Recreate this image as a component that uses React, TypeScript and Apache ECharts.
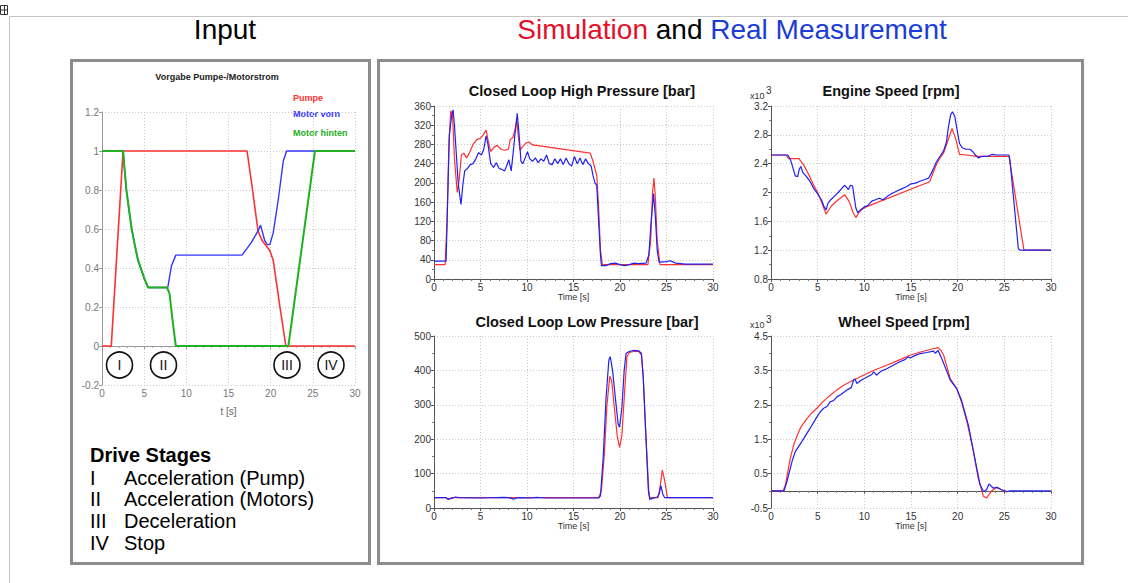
import React, { useEffect, useRef } from "react";
import * as echarts from "echarts";

const W = 1128;
const H = 583;
const FONT = "'Liberation Sans', Arial, sans-serif";

// ---------- Input chart (Vorgabe Pumpe-/Motorstrom) ----------
const inputTitle = "Vorgabe Pumpe-/Motorstrom";
const inputYTicks = { min: -0.2, max: 1.2, interval: 0.2 };
const pumpe: [number, number][] = [
  [0, 0], [1.1, 0], [2.5, 1], [17.2, 1], [17.85, 0.8], [18.5, 0.59], [19.0, 0.54],
  [19.9, 0.49], [20.3, 0.44], [21.1, 0.2], [21.8, 0], [30, 0],
];
const motorVorn: [number, number][] = [
  [0, 1], [2.5, 1], [2.69, 0.9], [2.89, 0.8], [3.2, 0.7], [3.48, 0.61], [3.88, 0.52],
  [4.27, 0.44], [4.67, 0.39], [5.07, 0.34], [5.46, 0.3], [7.8, 0.3], [8.23, 0.41],
  [8.75, 0.466], [16.6, 0.466], [17.7, 0.53], [18.5, 0.59], [18.8, 0.62], [19.3, 0.54],
  [19.6, 0.52], [19.9, 0.52], [20.3, 0.58], [20.9, 0.75], [21.5, 0.95], [21.9, 1], [30, 1],
];
const motorHinten: [number, number][] = [
  [0, 1], [2.5, 1], [2.69, 0.9], [2.89, 0.8], [3.2, 0.7], [3.48, 0.61], [3.88, 0.52],
  [4.27, 0.44], [4.67, 0.39], [5.07, 0.34], [5.46, 0.3], [7.7, 0.3], [8.0, 0.27],
  [8.4, 0.12], [8.75, 0], [22.1, 0], [25.25, 1], [30, 1],
];
const inputLegend = ["Pumpe", "Motor vorn", "Motor hinten"];
const stageMarks = ["I", "II", "III", "IV"];

// ---------- Drive stages ----------
const stagesHeading = "Drive Stages";
const stageNumerals = ["I", "II", "III", "IV"];
const stageNames = ["Acceleration (Pump)", "Acceleration (Motors)", "Deceleration", "Stop"];

// ---------- Closed Loop High Pressure [bar] ----------
const hpSim: [number, number][] = [
  [0, 30], [1.2, 30], [1.4, 120], [1.6, 280], [1.8, 350], [2.0, 340], [2.2, 250], [2.5, 180],
  [2.7, 205], [2.95, 258], [3.2, 262], [3.5, 252], [3.8, 262], [4.2, 280], [4.6, 290],
  [5.0, 293], [5.3, 300], [5.6, 310], [5.8, 290], [6.1, 265], [6.5, 275], [6.8, 278],
  [7.2, 270], [7.6, 268], [8.0, 270], [8.2, 290], [8.5, 295], [8.75, 315], [8.9, 330],
  [9.05, 300], [9.25, 268], [9.5, 275], [9.9, 283], [10.2, 285], [10.6, 279], [11, 278],
  [16.8, 262], [17.1, 245], [17.5, 215], [17.7, 150], [17.9, 60], [18.1, 30], [23.0, 30],
  [23.3, 80], [23.5, 180], [23.65, 210], [23.8, 170], [24.0, 80], [24.3, 30], [30, 30],
];
const hpMeas: [number, number][] = [
  [0, 37], [1.3, 37], [1.45, 150], [1.65, 300], [1.9, 340], [2.05, 352], [2.2, 320],
  [2.4, 260], [2.6, 200], [2.9, 155], [3.1, 195], [3.3, 225], [3.6, 230], [3.9, 238],
  [4.2, 240], [4.5, 250], [4.8, 263], [5.1, 258], [5.35, 270], [5.6, 298], [5.8, 280],
  [6.1, 240], [6.4, 232], [6.7, 242], [7.0, 230], [7.3, 228], [7.6, 225], [7.9, 240],
  [8.05, 248], [8.3, 225], [8.5, 260], [8.7, 300], [8.95, 345], [9.15, 300], [9.35, 245],
  [9.55, 240], [9.8, 252], [10.05, 265], [10.3, 250], [10.6, 245], [10.9, 252], [11.2, 242],
  [11.5, 250], [11.8, 245], [12.1, 258], [12.4, 240], [12.7, 238], [13.0, 250], [13.3, 240],
  [13.6, 250], [13.9, 238], [14.2, 252], [14.5, 240], [14.8, 235], [15.1, 255], [15.4, 240],
  [15.7, 252], [16.0, 238], [16.3, 250], [16.6, 240], [16.9, 235], [17.1, 215], [17.3, 200],
  [17.5, 195], [17.7, 120], [17.9, 50], [18.0, 28], [18.5, 28], [19.0, 32], [19.5, 33],
  [20.0, 30], [20.5, 28], [21.0, 30], [21.5, 33], [22.0, 32], [22.8, 33], [23.1, 50],
  [23.35, 120], [23.6, 178], [23.8, 130], [24.0, 60], [24.2, 35], [25.0, 36], [25.4, 38],
  [26.0, 33], [27, 31], [30, 31],
];

// ---------- Engine Speed [rpm] (x10^3) ----------
const esSim: [number, number][] = [
  [0, 2.52], [1.6, 2.52], [1.9, 2.47], [3.0, 2.47], [3.5, 2.38], [4.0, 2.26], [4.5, 2.12],
  [5.0, 2.0], [5.5, 1.84], [5.9, 1.7], [6.1, 1.74], [6.5, 1.82], [7.2, 1.9], [7.9, 1.97],
  [8.4, 1.87], [8.8, 1.72], [9.1, 1.65], [9.4, 1.72], [9.8, 1.77], [10.2, 1.8], [17.0, 2.15],
  [17.6, 2.35], [18.0, 2.46], [18.5, 2.55], [18.9, 2.7], [19.4, 2.89], [19.8, 2.74],
  [20.2, 2.53], [21.0, 2.52], [22.0, 2.5], [25.5, 2.5], [27.1, 1.2], [30, 1.2],
];
const esMeas: [number, number][] = [
  [0, 2.52], [1.8, 2.52], [2.1, 2.45], [2.4, 2.32], [2.6, 2.23], [2.85, 2.22], [3.05, 2.33],
  [3.2, 2.36], [3.4, 2.28], [3.8, 2.22], [4.2, 2.15], [4.6, 2.05], [5.0, 1.98], [5.4, 1.9],
  [5.7, 1.8], [5.9, 1.76], [6.1, 1.85], [6.4, 1.9], [6.8, 1.95], [7.2, 2.0], [7.6, 2.06],
  [7.9, 2.1], [8.1, 2.07], [8.3, 2.04], [8.5, 2.1], [8.75, 2.09], [8.9, 1.95], [9.1, 1.78],
  [9.3, 1.72], [9.6, 1.76], [10.0, 1.8], [10.4, 1.82], [10.8, 1.88], [11.2, 1.9], [11.6, 1.92],
  [12.0, 1.9], [12.5, 1.95], [13.0, 1.99], [13.5, 2.02], [14.0, 2.05], [14.5, 2.08],
  [15.0, 2.12], [15.5, 2.13], [16.0, 2.16], [16.5, 2.18], [16.9, 2.2], [17.3, 2.3],
  [17.7, 2.42], [18.1, 2.5], [18.5, 2.58], [18.8, 2.7], [19.0, 2.9], [19.25, 3.08],
  [19.45, 3.12], [19.7, 3.05], [19.9, 2.9], [20.2, 2.68], [20.5, 2.62], [20.9, 2.6],
  [21.3, 2.6], [21.6, 2.57], [21.9, 2.52], [22.2, 2.48], [22.6, 2.5], [23.2, 2.5],
  [23.7, 2.53], [24.2, 2.52], [25.5, 2.52], [25.6, 2.45], [26.5, 1.22], [26.7, 1.2], [30, 1.2],
];

// ---------- Closed Loop Low Pressure [bar] ----------
const lpSim: [number, number][] = [
  [0, 30], [1.3, 30], [1.5, 27], [2.0, 30], [17.7, 30], [18.0, 50], [18.3, 150], [18.6, 300],
  [18.9, 383], [19.1, 370], [19.4, 290], [19.7, 210], [19.95, 176], [20.2, 210], [20.5, 340],
  [20.75, 440], [21.0, 452], [21.5, 455], [22.0, 455], [22.3, 445], [22.5, 380], [22.8, 200],
  [23.1, 50], [23.2, 30], [24.1, 30], [24.3, 60], [24.55, 110], [24.8, 80], [25.1, 30], [30, 30],
];
const lpMeas: [number, number][] = [
  [0, 30], [1.3, 30], [1.5, 25], [1.9, 28], [2.3, 32], [2.7, 30], [5, 29], [7.5, 31], [8.0, 30],
  [8.6, 26], [9.0, 30], [10.5, 29], [11, 31], [12, 29], [17.7, 29], [17.9, 35], [18.2, 150],
  [18.5, 320], [18.8, 430], [18.95, 440], [19.2, 400], [19.5, 320], [19.8, 245], [19.95, 235],
  [20.2, 290], [20.45, 400], [20.65, 450], [21.0, 455], [21.5, 458], [22.0, 457], [22.3, 450],
  [22.5, 380], [22.8, 200], [23.05, 50], [23.2, 25], [23.5, 28], [24.0, 32], [24.2, 40],
  [24.4, 65], [24.6, 40], [24.8, 30], [30, 30],
];

// ---------- Wheel Speed [rpm] (x10^3) ----------
const wsSim: [number, number][] = [
  [0, 0], [1.3, 0], [1.55, 0.18], [1.8, 0.55], [2.07, 0.95], [2.43, 1.33], [2.8, 1.6],
  [3.14, 1.82], [3.5, 1.97], [3.85, 2.1], [4.4, 2.27], [4.92, 2.4], [5.6, 2.6], [6.35, 2.78],
  [7.0, 2.92], [7.78, 3.07], [8.85, 3.22], [9.9, 3.36], [11.1, 3.51], [12.4, 3.65],
  [13.7, 3.8], [14.9, 3.94], [16.2, 4.05], [17.4, 4.13], [17.9, 4.16], [18.2, 4.08],
  [18.5, 3.94], [18.85, 3.6], [19.2, 3.26], [19.9, 2.97], [20.4, 2.59], [21.0, 2.0],
  [21.7, 1.14], [22.2, 0.37], [22.76, -0.16], [23.1, -0.21], [23.65, 0.0], [24.2, 0.1],
  [24.7, 0.03], [25.3, -0.04],
];
const wsMeas: [number, number][] = [
  [0, 0], [1.4, 0], [1.71, 0.27], [2.25, 0.85], [2.6, 1.14], [3.3, 1.43], [4.2, 1.82],
  [4.92, 2.15], [5.3, 2.3], [5.64, 2.4], [6.0, 2.45], [6.35, 2.59], [6.7, 2.62], [7.06, 2.73],
  [7.5, 2.8], [8.13, 2.93], [8.6, 3.0], [8.85, 3.22], [9.0, 3.25], [9.2, 3.12], [9.7, 3.22],
  [10.3, 3.31], [10.8, 3.38], [11.0, 3.46], [11.3, 3.36], [11.8, 3.48], [12.4, 3.55],
  [13.1, 3.65], [13.8, 3.75], [14.4, 3.82], [14.7, 3.9], [14.9, 3.86], [15.4, 3.93],
  [16.0, 3.99], [16.7, 4.02], [17.4, 4.06], [17.6, 4.0], [17.9, 4.08], [18.3, 3.84],
  [18.8, 3.5], [19.2, 3.22], [19.9, 2.97], [20.4, 2.64], [21.15, 1.91], [21.9, 0.85],
  [22.4, 0.18], [22.76, -0.02], [23.1, 0.03], [23.35, 0.2], [23.8, 0.08], [24.2, 0.1],
  [24.7, 0.03], [25.3, -0.02], [25.6, 0], [30, 0],
];

const chartTitles = [
  "Closed Loop High Pressure [bar]",
  "Engine Speed [rpm]",
  "Closed Loop Low Pressure [bar]",
  "Wheel Speed [rpm]",
];
const xName = "Time [s]";

const RED = "#ff3030";
const BLUE = "#2020f0";
const GREEN = "#22b022";

function buildOption() {
  const grids = [
    { left: 102, top: 112, width: 253, height: 273 },
    { left: 434, top: 106, width: 279, height: 173 },
    { left: 771, top: 106, width: 280, height: 173 },
    { left: 434, top: 336, width: 279, height: 172 },
    { left: 771, top: 336, width: 280, height: 172 },
  ];
  const yRanges = [
    inputYTicks,
    { min: 0, max: 360, interval: 40 },
    { min: 0.8, max: 3.2, interval: 0.4 },
    { min: 0, max: 500, interval: 100 },
    { min: -0.5, max: 4.5, interval: 1 },
  ];
  const split = { show: true, lineStyle: { color: "#c8c8c8", type: [1, 2] as any, width: 1 } };
  const xAxis = grids.map((_, i) => ({
    type: "value",
    gridIndex: i,
    min: 0,
    max: 30,
    interval: 5,
    name: i === 0 ? "t [s]" : xName,
    nameLocation: "middle",
    nameGap: i === 0 ? 21 : 13,
    nameTextStyle: { fontSize: i === 0 ? 10 : 9, color: i === 0 ? "#666" : "#333", fontFamily: FONT },
    axisLine: { lineStyle: { color: i === 0 ? "#999" : "#555", width: 1 } },
    axisTick: { show: true, length: 3, lineStyle: { color: i === 0 ? "#999" : "#555" } },
    minorTick: { show: true, splitNumber: 5, length: 2, lineStyle: { color: i === 0 ? "#aaa" : "#777" } },
    axisLabel: { fontSize: 10, color: i === 0 ? "#777" : "#333", margin: 3, fontFamily: FONT },
    splitLine: split,
  }));
  const yAxis = grids.map((_, i) => ({
    type: "value",
    gridIndex: i,
    min: yRanges[i].min,
    max: yRanges[i].max,
    interval: yRanges[i].interval,
    axisLine: { show: true, lineStyle: { color: i === 0 ? "#999" : "#555", width: 1 } },
    axisTick: { show: true, length: 3, lineStyle: { color: i === 0 ? "#999" : "#555" } },
    minorTick: { show: i !== 0, splitNumber: 2, length: 2, lineStyle: { color: "#777" } },
    axisLabel: { fontSize: 10, color: i === 0 ? "#777" : "#333", margin: 3, fontFamily: FONT },
    splitLine: split,
  }));
  const line = (name: string, data: [number, number][], idx: number, color: string, w: number) => ({
    type: "line",
    name,
    xAxisIndex: idx,
    yAxisIndex: idx,
    data,
    showSymbol: false,
    symbol: "none",
    lineStyle: { color, width: w },
    itemStyle: { color },
  });
  const series = [
    line("Pumpe", pumpe, 0, RED, 1.6),
    line("Motor vorn", motorVorn, 0, "#3333ff", 1.4),
    line("Motor hinten", motorHinten, 0, GREEN, 2),
    line("Simulation HP", hpSim, 1, RED, 1.2),
    line("Measurement HP", hpMeas, 1, BLUE, 1.2),
    line("Simulation ES", esSim, 2, RED, 1.2),
    line("Measurement ES", esMeas, 2, BLUE, 1.2),
    line("Simulation LP", lpSim, 3, RED, 1.2),
    line("Measurement LP", lpMeas, 3, BLUE, 1.2),
    line("Simulation WS", wsSim, 4, RED, 1.2),
    line("Measurement WS", wsMeas, 4, BLUE, 1.2),
  ];

  const graphic: any[] = [];
  // page frame lines + icon
  graphic.push({ type: "line", shape: { x1: 10, y1: 16.5, x2: W, y2: 16.5 }, style: { stroke: "#c4c4c4", lineWidth: 1 } });
  graphic.push({ type: "line", shape: { x1: 9.5, y1: 16, x2: 9.5, y2: H }, style: { stroke: "#c4c4c4", lineWidth: 1 } });
  graphic.push({ type: "rect", shape: { x: 0.5, y: 5.5, width: 7, height: 9 }, style: { fill: "#fff", stroke: "#333", lineWidth: 1 } });
  graphic.push({ type: "line", shape: { x1: 1, y1: 10, x2: 8, y2: 10 }, style: { stroke: "#333", lineWidth: 1 } });
  graphic.push({ type: "line", shape: { x1: 4.5, y1: 6, x2: 4.5, y2: 14 }, style: { stroke: "#333", lineWidth: 1 } });

  // panels
  graphic.push({ type: "rect", shape: { x: 71.5, y: 60.5, width: 298, height: 503 }, style: { fill: "none", stroke: "#8c8c8c", lineWidth: 3 } });
  graphic.push({ type: "rect", shape: { x: 378.5, y: 60.5, width: 704, height: 503 }, style: { fill: "none", stroke: "#8c8c8c", lineWidth: 3 } });

  // headings
  graphic.push({
    type: "text", x: 225, y: 29,
    style: { text: "Input", fontSize: 28, fontFamily: FONT, fill: "#000", align: "center", verticalAlign: "middle" },
  });
  graphic.push({
    type: "text", x: 732, y: 29,
    style: {
      text: "{r|Simulation} {k|and} {b|Real Measurement}",
      fontSize: 28, fontFamily: FONT, align: "center", verticalAlign: "middle",
      rich: {
        r: { fill: "#e4102a", fontSize: 28, fontFamily: FONT },
        k: { fill: "#000", fontSize: 28, fontFamily: FONT },
        b: { fill: "#1c3cd6", fontSize: 28, fontFamily: FONT },
      },
    },
  });

  // input chart title + legend
  graphic.push({
    type: "text", x: 217, y: 77,
    style: { text: inputTitle, fontSize: 9, fontWeight: "bold", fontFamily: FONT, fill: "#222", align: "center", verticalAlign: "middle" },
  });
  const legendColors = [RED, "#3333ff", GREEN];
  const legendY = [98, 114, 133];
  inputLegend.forEach((t, i) => {
    graphic.push({
      type: "text", x: 293, y: legendY[i],
      style: { text: t, fontSize: 9, fontWeight: "bold", fontFamily: FONT, fill: legendColors[i], align: "left", verticalAlign: "middle" },
    });
  });
  // stage circles
  const circleX = [119.5, 163.5, 287, 331];
  stageMarks.forEach((m, i) => {
    graphic.push({ type: "circle", shape: { cx: circleX[i], cy: 365, r: 13 }, style: { fill: "#fff", stroke: "#111", lineWidth: 1.6 }, z: 100 });
    graphic.push({
      type: "text", x: circleX[i], y: 365, z: 101,
      style: { text: m, fontSize: 14, fontFamily: FONT, fill: "#111", align: "center", verticalAlign: "middle" },
    });
  });

  // drive stages text
  graphic.push({
    type: "text", x: 90, y: 455,
    style: { text: stagesHeading, fontSize: 20, fontWeight: "bold", fontFamily: FONT, fill: "#000", align: "left", verticalAlign: "middle" },
  });
  const rowY = [478, 499, 521, 543];
  stageNumerals.forEach((n, i) => {
    graphic.push({
      type: "text", x: 90, y: rowY[i],
      style: { text: n, fontSize: 20, fontFamily: FONT, fill: "#000", align: "left", verticalAlign: "middle" },
    });
    graphic.push({
      type: "text", x: 124, y: rowY[i],
      style: { text: stageNames[i], fontSize: 20, fontFamily: FONT, fill: "#000", align: "left", verticalAlign: "middle" },
    });
  });

  // chart titles
  const titlePos = [
    [582, 91], [891, 91], [587, 322], [904, 322],
  ];
  chartTitles.forEach((t, i) => {
    graphic.push({
      type: "text", x: titlePos[i][0], y: titlePos[i][1],
      style: { text: t, fontSize: 14.5, fontWeight: "bold", fontFamily: FONT, fill: "#111", align: "center", verticalAlign: "middle" },
    });
  });
  // x10^3 labels
  [[750, 96], [750, 325]].forEach(([x, y]) => {
    graphic.push({ type: "text", x, y, style: { text: "x10", fontSize: 9, fontFamily: FONT, fill: "#333", align: "left", verticalAlign: "middle" } });
    graphic.push({ type: "text", x: x + 16, y: y - 6, style: { text: "3", fontSize: 10, fontFamily: FONT, fill: "#333", align: "left", verticalAlign: "middle" } });
  });

  return {
    animation: false,
    backgroundColor: "#fff",
    textStyle: { fontFamily: FONT },
    grid: grids,
    xAxis,
    yAxis,
    series,
    graphic,
  };
}

export default function App() {
  const ref = useRef<HTMLDivElement>(null);
  useEffect(() => {
    document.body.style.margin = "0";
    const chart = echarts.init(ref.current!, null, { renderer: "svg" });
    chart.setOption(buildOption() as any);
    return () => chart.dispose();
  }, []);
  return <div ref={ref} style={{ width: W, height: H, background: "#fff" }} />;
}
